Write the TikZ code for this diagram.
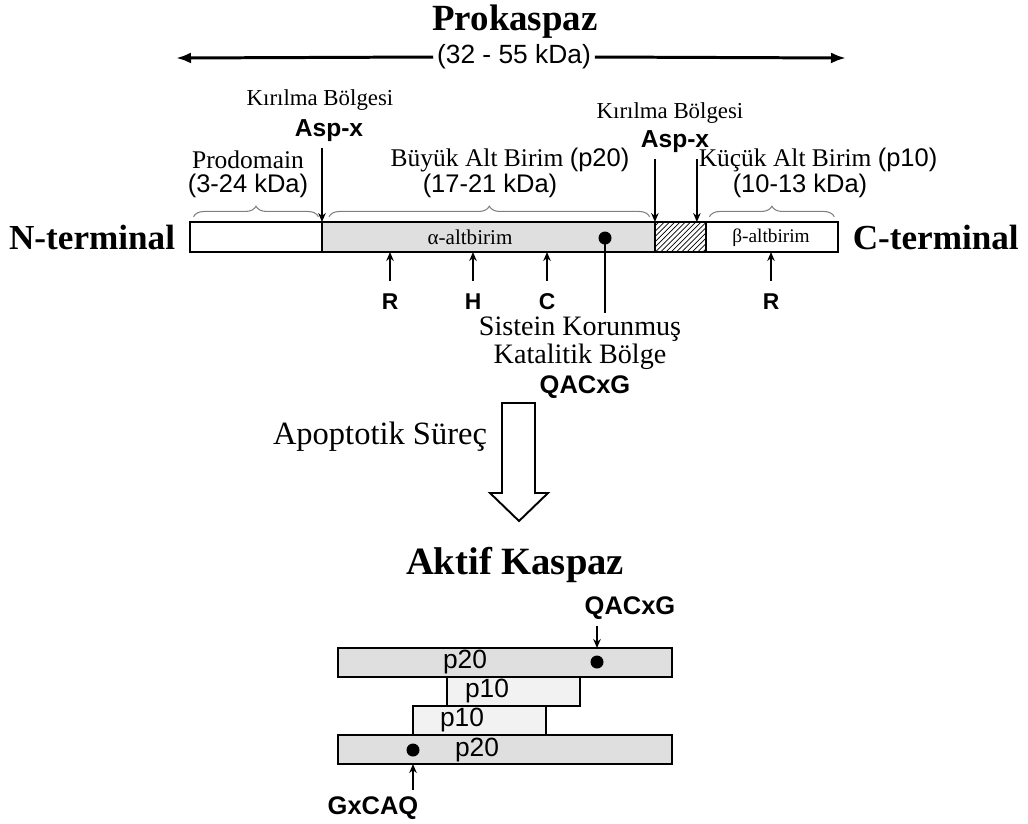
\documentclass[tikz,border=0pt]{standalone}
\usepackage{fontspec}
\setmainfont{Liberation Serif}
\setsansfont{Liberation Sans}
\usetikzlibrary{positioning, arrows.meta, patterns, decorations.pathreplacing}

\begin{document}
\begin{tikzpicture}[
    x=0.02cm, y=-0.02cm,
    seg/.style={rectangle, draw, line width=1pt, minimum height=0.6cm, inner sep=0pt, outer sep=0pt, anchor=west},
    sub/.style={rectangle, draw, line width=1pt, minimum height=0.58cm, inner sep=0pt, outer sep=0pt, anchor=north west},
    dot/.style={circle, fill=black, inner sep=0pt, minimum size=0.26cm},
    arrow/.style={-{Stealth[length=1.8mm, width=1.5mm]}, line width=0.8pt},
    span/.style={-{Latex[length=3mm, width=2.2mm]}, line width=1.7pt},
    brace/.style={decorate, decoration={brace, amplitude=6pt}, gray, line width=0.6pt},
    title/.style={font=\bfseries\fontsize{21}{24}\selectfont},
    term/.style={font=\bfseries\fontsize{20}{22}\selectfont},
    note/.style={font=\fontsize{13}{15}\selectfont},
    asp/.style={font=\sffamily\bfseries\fontsize{14}{16}\selectfont},
    part/.style={font=\fontsize{14.5}{16}\selectfont},
    res/.style={font=\sffamily\bfseries\fontsize{13}{15}\selectfont},
    motif/.style={font=\sffamily\bfseries\fontsize{14.5}{16}\selectfont},
    sublab/.style={font=\sffamily\fontsize{15}{17}\selectfont}
]
\useasboundingbox (0,0) rectangle (1028,823);

% Procaspase span
\node[title] (prok) at (515,22) {Prokaspaz};
\node[font=\sffamily\fontsize{15}{17}\selectfont, inner sep=2pt] (kda) at (514,57) {(32 - 55 kDa)};
\coordinate (spanl) at (176,58);
\coordinate (spanr) at (846,58);
\draw[span] (kda.west) -- (spanl);
\draw[span] (kda.east) -- (spanr);

% Domain bar
\node[seg, fill=white, minimum width=2.64cm] (prodom) at (190,237) {};
\node[seg, fill=gray!25, minimum width=6.66cm] (alpha) at (prodom.east) {};
\node[seg, pattern=north east lines, minimum width=1.02cm] (link) at (alpha.east) {};
\node[seg, fill=white, minimum width=2.64cm] (beta) at (link.east) {};
\node[font=\fontsize{12}{14}\selectfont] (alab) at (470,237) {α-altbirim};
\node[font=\fontsize{11}{13}\selectfont] (blab) at (771,238) {β-altbirim};
\node[dot] (cys) at (605,238) {};

\node[term, left=5pt of prodom] (nterm) {N-terminal};
\node[term, right=5pt of beta] (cterm) {C-terminal};

% Cleavage sites
\node[note] (cut1) at (320,100) {Kırılma Bölgesi};
\node[asp] (asp1) at (329,131) {Asp-x};
\draw[arrow] (asp1.south -| alpha.west) -- (alpha.north west);
\node[note] (cut2) at (670,113) {Kırılma Bölgesi};
\node[asp] (asp2) at (675,142) {Asp-x};
\draw[arrow] (asp2.south -| link.west) -- (link.north west);
\draw[arrow] ([xshift=-0.18cm]asp2.south -| beta.west) -- ([xshift=-0.18cm]beta.north west);

% Domain labels and braces
\node[part] (prodname) at (248,160) {Prodomain};
\node[part, font=\sffamily\fontsize{14.5}{16}\selectfont] (prodkda) at (248,186) {(3-24 kDa)};
\node[part] (bigname) at (510,160) {Büyük Alt Birim {\sffamily (p20)}};
\node[part, font=\sffamily\fontsize{14.5}{16}\selectfont] (bigkda) at (490,186) {(17-21 kDa)};
\node[part] (smallname) at (818,160) {Küçük Alt Birim {\sffamily (p10)}};
\node[part, font=\sffamily\fontsize{14.5}{16}\selectfont] (smallkda) at (800,186) {(10-13 kDa)};
\draw[brace] ([xshift=2pt, yshift=3pt]prodom.north west) -- ([xshift=-2pt, yshift=3pt]prodom.north east);
\draw[brace] ([xshift=4pt, yshift=3pt]alpha.north west) -- ([xshift=-3pt, yshift=3pt]alpha.north east);
\draw[brace] ([xshift=2pt, yshift=3pt]beta.north west) -- ([xshift=-2pt, yshift=3pt]beta.north east);

% Residues
\foreach \x/\r/\n in {390/R/res1, 473/H/res2, 547/C/res3, 771/R/res4} {
    \node[res] (\n) at (\x,302) {\r};
    \draw[arrow, shorten <=4pt] (\n.north) -- (\n.north |- alpha.south);
}

% Catalytic site
\coordinate (cysend) at (605,313);
\draw[line width=0.8pt] (cys.center) -- (cysend);
\node[font=\fontsize{16}{18}\selectfont] (sist) at (580,329) {Sistein Korunmuş};
\node[font=\fontsize{16}{18}\selectfont] (kat) at (580,357) {Katalitik Bölge};
\node[motif] (qacxg) at (585,387) {QACxG};

% Apoptotic process
\draw[line width=1.1pt, fill=white] (502,403) -- (535,403) -- (535,493) -- (548,493)
    -- (519,521) -- (490,493) -- (502,493) -- cycle;
\node[font=\fontsize{18.5}{20}\selectfont] (apop) at (380,437) {Apoptotik Süreç};

% Active caspase
\node[font=\bfseries\fontsize{22}{24}\selectfont] (aktif) at (515,565) {Aktif Kaspaz};
\node[sub, fill=gray!25, minimum width=6.68cm] (top20) at (338,648) {};
\node[sub, fill=gray!10, minimum width=2.66cm] (up10) at (447,677) {};
\node[sub, fill=gray!10, minimum width=2.66cm] (low10) at (413,706) {};
\node[sub, fill=gray!25, minimum width=6.68cm] (bot20) at (338,735) {};
\node[sublab] (l1) at (465,662) {p20};
\node[sublab] (l2) at (487,691) {p10};
\node[sublab] (l3) at (462,720) {p10};
\node[sublab] (l4) at (477,750) {p20};
\node[dot] (dtop) at (597,662) {};
\node[dot] (dbot) at (413,750) {};
\node[motif] (qtop) at (630,608) {QACxG};
\draw[arrow] (qtop.south -| dtop) -- (dtop |- top20.north);
\node[motif] (gbot) at (373,808) {GxCAQ};
\draw[arrow] (gbot.north -| dbot) -- (dbot |- bot20.south);

\end{tikzpicture}
\end{document}
